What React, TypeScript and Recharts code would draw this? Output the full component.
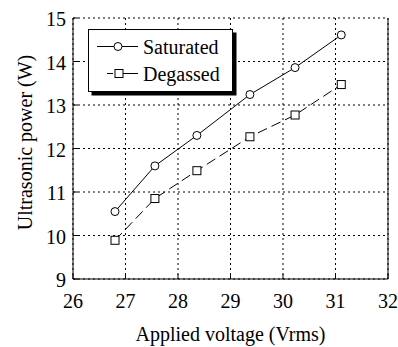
import React from 'react';
import { LineChart, Line, XAxis, YAxis, CartesianGrid, Legend, Label } from 'recharts';

const voltageSaturated = [26.8, 27.56, 28.36, 29.37, 30.23, 31.11];
const powerSaturated = [10.55, 11.6, 12.3, 13.24, 13.86, 14.61];
const voltageDegassed = [26.8, 27.56, 28.36, 29.37, 30.23, 31.11];
const powerDegassed = [9.89, 10.85, 11.49, 12.27, 12.77, 13.47];
const xTicks = [26, 27, 28, 29, 30, 31, 32];
const yTicks = [9, 10, 11, 12, 13, 14, 15];
const seriesNames = ['Saturated', 'Degassed'];

const saturatedData = voltageSaturated.map((v, i) => ({ v, p: powerSaturated[i] }));
const degassedData = voltageDegassed.map((v, i) => ({ v, p: powerDegassed[i] }));

const FONT = 'Liberation Serif';

const SquareDot = (props: any) => {
  const { cx, cy, index } = props;
  if (cx == null || cy == null) return null;
  return <rect key={`sq-${index}`} x={cx - 4} y={cy - 4} width={8} height={8} fill="#fff" stroke="#000" strokeWidth={1} />;
};

const LegendBox = () => (
  <svg width={152} height={70} style={{ display: 'block', overflow: 'visible' }}>
    <rect x={3.5} y={3.5} width={145} height={63} fill="#000" />
    <rect x={0.5} y={0.5} width={144} height={62} fill="#fff" stroke="#000" strokeWidth={1} />
    <line x1={9} y1={17.5} x2={50} y2={17.5} stroke="#000" strokeWidth={1} />
    <circle cx={30} cy={17.5} r={4} fill="#fff" stroke="#000" strokeWidth={1} />
    <text x={55} y={25} fontFamily={FONT} fontSize={20} fill="#000">{seriesNames[0]}</text>
    <line x1={19} y1={44.5} x2={25} y2={44.5} stroke="#000" strokeWidth={1} />
    <line x1={35} y1={44.5} x2={50} y2={44.5} stroke="#000" strokeWidth={1} />
    <rect x={27} y={40.5} width={8} height={8} fill="#fff" stroke="#000" strokeWidth={1} />
    <text x={55} y={52} fontFamily={FONT} fontSize={20} fill="#000">{seriesNames[1]}</text>
  </svg>
);

export default function App() {
  const tickStyle = { fontSize: 20, fontFamily: FONT, fill: '#000' };
  return (
    <div style={{ position: 'absolute', left: 0, top: 0, background: '#fff' }}>
      <LineChart width={398} height={347} margin={{ top: 18, right: 9, left: 0, bottom: 0 }}>
        <CartesianGrid stroke="#000" strokeDasharray="2 3" strokeWidth={1} />
        <XAxis
          dataKey="v"
          type="number"
          domain={[26, 32]}
          ticks={xTicks}
          allowDuplicatedCategory={false}
          height={68}
          tickSize={-5}
          tickMargin={20}
          stroke="#000"
          tick={tickStyle}
          interval={0}
        >
          <Label value="Applied voltage (Vrms)" position="insideBottom" offset={6} fontFamily={FONT} fontSize={20} fill="#000" />
        </XAxis>
        <XAxis
          xAxisId="top"
          orientation="top"
          type="number"
          domain={[26, 32]}
          ticks={xTicks}
          height={0}
          tickSize={-5}
          tick={false}
          stroke="#000"
          interval={0}
        />
        <YAxis
          type="number"
          domain={[9, 15]}
          ticks={yTicks}
          width={73}
          tickSize={-5}
          tickMargin={12}
          stroke="#000"
          tick={{ ...tickStyle, dy: 1 }}
          interval={0}
        >
          <Label
            content={() => (
              <text
                x={32}
                y={142.5}
                transform="rotate(-90 32 142.5)"
                textAnchor="middle"
                fontFamily={FONT}
                fontSize={20}
                fill="#000"
              >
                Ultrasonic power (W)
              </text>
            )}
          />
        </YAxis>
        <YAxis
          yAxisId="right"
          orientation="right"
          type="number"
          domain={[9, 15]}
          ticks={yTicks}
          width={1}
          tickSize={-5}
          tick={false}
          stroke="#000"
          interval={0}
        />
        <Legend
          layout="horizontal"
          verticalAlign="middle"
          align="center"
          content={() => <LegendBox />}
          wrapperStyle={{ position: 'absolute', left: 88, top: 29, width: 152, height: 70 }}
        />
        <Line
          data={saturatedData}
          dataKey="p"
          name={seriesNames[0]}
          stroke="#000"
          strokeWidth={1}
          dot={{ r: 4, fill: '#fff', stroke: '#000', strokeWidth: 1 }}
          activeDot={false}
          isAnimationActive={false}
        />
        <Line
          data={degassedData}
          dataKey="p"
          name={seriesNames[1]}
          stroke="#000"
          strokeWidth={1}
          strokeDasharray="10 5"
          dot={<SquareDot />}
          activeDot={false}
          isAnimationActive={false}
        />
      </LineChart>
    </div>
  );
}
